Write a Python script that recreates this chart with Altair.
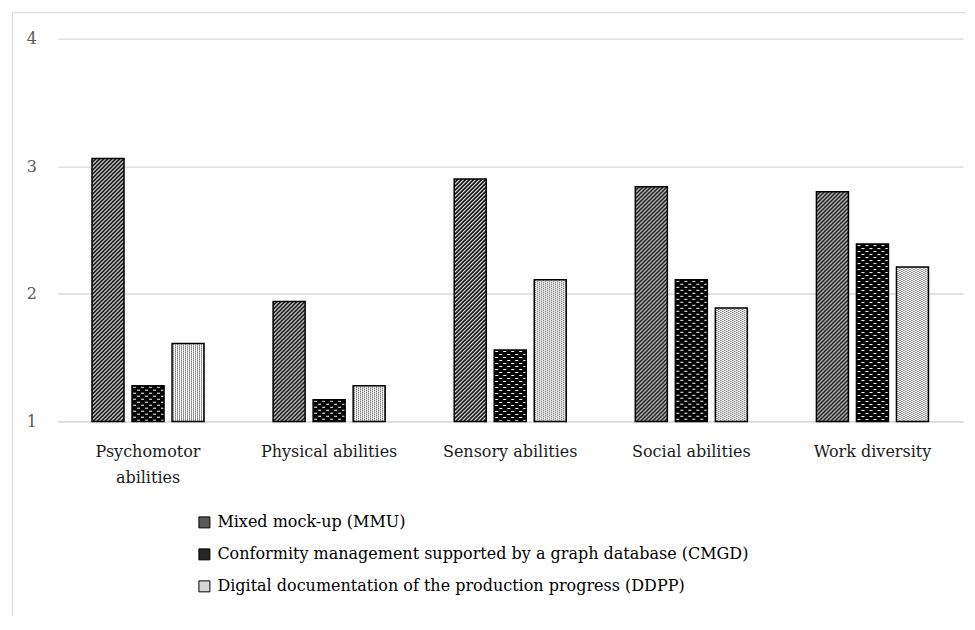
import base64
import altair as alt
import pandas as pd

categories = ["Psychomotor abilities", "Physical abilities", "Sensory abilities",
              "Social abilities", "Work diversity"]
series = ["Mixed mock-up (MMU)",
          "Conformity management supported by a graph database (CMGD)",
          "Digital documentation of the production progress (DDPP)"]
mmu = [3.06, 1.94, 2.90, 2.84, 2.80]
cmgd = [1.28, 1.17, 1.56, 2.11, 2.39]
ddpp = [1.61, 1.28, 2.11, 1.89, 2.21]
series_fill = ["#5a5a5a", "#262626", "#d6d6d6"]
y_ticks = [1, 2, 3, 4]

FONT = "DejaVu Serif"


def svg_uri(body, w, h):
    svg = ('<svg xmlns="http://www.w3.org/2000/svg" width="100%" height="100%">'
           f'<defs><pattern id="p" width="{w}" height="{h}" patternUnits="userSpaceOnUse">'
           f'{body}</pattern></defs>'
           '<rect width="100%" height="100%" fill="url(#p)"/></svg>')
    return "data:image/svg+xml;base64," + base64.b64encode(svg.encode()).decode()


patterns = [
    svg_uri('<rect width="4" height="4" fill="#fff"/>'
            '<path d="M-1,1L1,-1M0,4L4,0M3,5L5,3" stroke="#000" stroke-width="1.6"/>', 4, 4),
    svg_uri('<rect width="8" height="6" fill="#000"/>'
            '<rect x="1" y="1" width="3" height="1" fill="#fff"/>'
            '<rect x="5" y="4" width="3" height="1" fill="#fff"/>', 8, 6),
    svg_uri('<rect width="4" height="2" fill="#fff"/>'
            '<rect x="1" y="0" width="1" height="1" fill="#222"/>'
            '<rect x="3" y="1" width="1" height="1" fill="#222"/>', 4, 2),
]

rows = []
for s, vals, url in zip(series, [mmu, cmgd, ddpp], patterns):
    for c, v in zip(categories, vals):
        rows.append({"category": c, "series": s, "value": v, "url": url})
df = pd.DataFrame(rows)

x_enc = alt.X("category:N", sort=categories,
              scale=alt.Scale(paddingInner=0, paddingOuter=0),
              axis=alt.Axis(title=None, labelAngle=0, ticks=False,
                            domainColor="#d9d9d9", domainWidth=1.3,
                            labelFont=FONT, labelFontSize=16, labelColor="#1a1a1a",
                            labelPadding=22, labelLineHeight=26,
                            labelExpr="datum.label == 'Psychomotor abilities' ? ['Psychomotor', 'abilities'] : datum.label"))
xo_enc = alt.XOffset("series:N", sort=series,
                     scale=alt.Scale(paddingInner=0.2, paddingOuter=0.8625))
y_enc = alt.Y("value:Q", scale=alt.Scale(domain=[1, 4], nice=False, zero=False),
              axis=alt.Axis(title=None, values=y_ticks, domain=False, ticks=False,
                            grid=True, gridColor="#d9d9d9", gridWidth=1.3,
                            labelFont=FONT, labelFontSize=16, labelColor="#595959",
                            labelPadding=21))

base = alt.Chart(df)

bars = base.mark_bar().encode(
    x=x_enc, xOffset=xo_enc, y=y_enc, y2=alt.datum(1),
    color=alt.Color("series:N", sort=series,
                    scale=alt.Scale(domain=series, range=series_fill),
                    legend=alt.Legend(title=None, orient="none", legendX=139, legendY=476,
                                      symbolType="square", symbolSize=121,
                                      symbolStrokeColor="black", symbolStrokeWidth=1,
                                      labelFont=FONT, labelFontSize=16, labelColor="#000",
                                      labelOffset=5, rowPadding=16, labelLimit=1000,
                                      padding=0)),
)

imgs = base.mark_image(aspect=False).encode(
    x=x_enc, xOffset=xo_enc, y=y_enc, y2=alt.datum(1), url=alt.Url("url:N"),
)

outline = base.mark_bar(fill="transparent", stroke="black", strokeWidth=1.5).encode(
    x=x_enc, xOffset=xo_enc, y=y_enc, y2=alt.datum(1),
)

frame_data = pd.DataFrame({"k": [0]})
frame_top = alt.Chart(frame_data).mark_rule(color="#d9d9d9", strokeWidth=1).encode(
    x=alt.value(-45), x2=alt.value(909), y=alt.value(-26))
frame_left = alt.Chart(frame_data).mark_rule(color="#d9d9d9", strokeWidth=1).encode(
    x=alt.value(-45), y=alt.value(-26), y2=alt.value(578))

chart = alt.layer(frame_top, frame_left, bars, imgs, outline).properties(
    width=906, height=383,
    padding={"left": 3.5, "top": 3.5, "right": 0, "bottom": 0},
    background="white",
).configure_view(stroke=None)

chart.save("out.html", embed_options={"renderer": "svg", "actions": False})
